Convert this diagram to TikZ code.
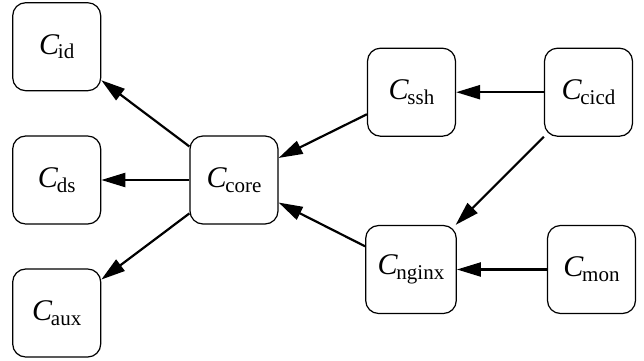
\documentclass[tikz,border=0pt]{standalone}
\usepackage{fontspec}
\setmainfont{Liberation Serif}
\usetikzlibrary{arrows.meta}
\newcommand{\cname}[1]{\textit{C}\kern-0.05em\raisebox{-0.35ex}{\fontsize{10.5}{11}\selectfont #1}}
\tikzset{comp/.style={draw, rounded corners=6.5pt, minimum width=44pt, minimum height=44pt,
  inner sep=6pt, font=\fontsize{15}{18}\selectfont, line width=0.6pt}}
\begin{document}
\begin{tikzpicture}[x=0.5pt, y=-0.5pt, >={Triangle[length=12pt,width=7pt]}]
\useasboundingbox (0,0) rectangle (644,360);
\foreach \n/\x/\y in {id/56.7/46.7, ds/56.7/180, aux/56.7/313, core/234/180,
    ssh/411.5/92.2, cicd/588.5/92.2, nginx/411/269.5, mon/591.5/269.5}
  \node[comp] (\n) at (\x,\y) {\cname{\n}};
\foreach \a/\b in {core/id, core/ds, core/aux, ssh/core, nginx/core, cicd/ssh, cicd/nginx, mon/nginx}
  \draw[->, line width=1.1pt] (\a) -- (\b);
\end{tikzpicture}
\end{document}
